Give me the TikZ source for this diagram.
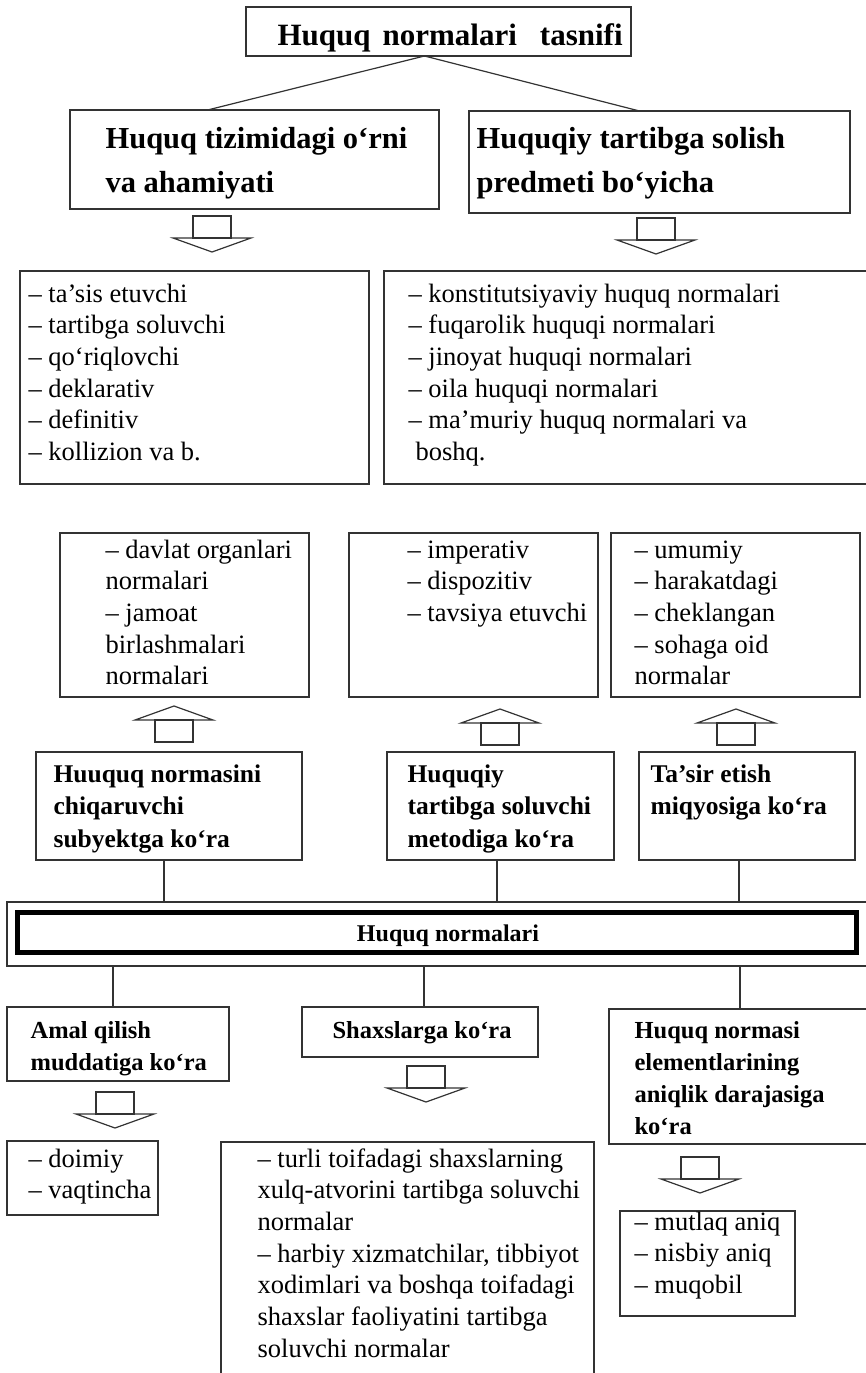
\documentclass[tikz,border=0pt]{standalone}
\usepackage{fontspec}
\setmainfont{Liberation Serif}
\begin{document}
\begin{tikzpicture}[x=1pt,y=-1pt,line width=1.2pt]
\tikzset{box/.style={draw=black!80,anchor=north west,inner sep=0pt,outer sep=0pt}}
% text nodes sit on the baseline of their last line
\tikzset{txt/.style={anchor=base west,align=left,inner sep=0pt,font=\fontsize{26.5}{31.7}\selectfont}}
\tikzset{headtxt/.style={txt,font=\fontsize{30.5}{44}\selectfont\bfseries}}
\tikzset{subtxt/.style={txt,font=\fontsize{25.5}{32.5}\selectfont\bfseries}}
\tikzset{smalltxt/.style={txt,font=\fontsize{24.5}{32}\selectfont\bfseries}}
\tikzset{link/.style={draw=black!80}}
\tikzset{blockdown/.pic={
  \draw[black!80] (-19,0) rectangle (19,22);
  \draw[black!80] (-39,22) -- (39,22) -- (0,36) -- cycle;}}

\useasboundingbox (0,0) rectangle (865,1373);

% top
\node[box,minimum width=385,minimum height=49] (title) at (246,7) {};
\node[headtxt,font=\fontsize{31}{40}\selectfont\bfseries] (titletxt) at (277,45) {Huquq\hspace{12pt}normalari\hspace{23pt}tasnifi};
\node[box,minimum width=369,minimum height=99] (sys) at (70,110) {};
\node[headtxt] (systxt) at (105,192) {Huquq tizimidagi o‘rni\\va ahamiyati};
\node[box,minimum width=381,minimum height=102] (subj) at (469,111) {};
\node[headtxt] (subjtxt) at (476,192) {Huquqiy tartibga solish\\predmeti bo‘yicha};
\draw[link] ([xshift=-14pt]title.south) -- ([xshift=-47pt]sys.north);
\draw[link] ([xshift=-14pt]title.south) -- ([xshift=-20pt]subj.north);

\pic at (212,216) {blockdown};
\pic at (656,218) {blockdown};

\node[box,minimum width=349,minimum height=213] (sysl) at (20,271) {};
\node[txt] (sysltxt) at (28,460.5) {– ta’sis etuvchi\\– tartibga soluvchi\\– qo‘riqlovchi\\– deklarativ\\– definitiv\\– kollizion va b.};
\node[box,minimum width=520,minimum height=213] (subjl) at (384,271) {};
\node[txt] (subjltxt) at (408,460.5) {– konstitutsiyaviy huquq normalari\\– fuqarolik huquqi normalari\\– jinoyat huquqi normalari\\– oila huquqi normalari\\– ma’muriy huquq normalari va\\\hspace*{7pt}boshq.};

% middle
\node[box,minimum width=249,minimum height=164] (publ) at (60,533) {};
\node[txt] (publtxt) at (105,684.8) {– davlat organlari\\normalari\\– jamoat\\birlashmalari\\normalari};
\node[box,minimum width=249,minimum height=164] (metl) at (349,533) {};
\node[txt] (metltxt) at (407,621.4) {– imperativ\\– dispozitiv\\– tavsiya etuvchi};
\node[box,minimum width=249,minimum height=164] (effl) at (611,533) {};
\node[txt] (effltxt) at (634,684.8) {– umumiy\\– harakatdagi\\– cheklangan\\– sohaga oid\\normalar};

\pic[yscale=-1] at (174,742) {blockdown};
\pic[yscale=-1] at (500,745) {blockdown};
\pic[yscale=-1] at (736,745) {blockdown};

\node[box,minimum width=266,minimum height=108] (pubh) at (36,752) {};
\node[subtxt] (pubhtxt) at (53,847) {Huuquq normasini\\chiqaruvchi\\subyektga ko‘ra};
\node[box,minimum width=227,minimum height=108] (meth) at (387,752) {};
\node[subtxt] (methtxt) at (407,847) {Huquqiy\\tartibga soluvchi\\metodiga ko‘ra};
\node[box,minimum width=216,minimum height=108] (effh) at (639,752) {};
\node[subtxt] (effhtxt) at (650,814.5) {Ta’sir etish\\miqyosiga ko‘ra};

\node[box,minimum width=878,minimum height=64] (outer) at (7,902) {};
\node[box,draw=black,line width=5pt,minimum width=839,minimum height=40] (main) at (17,912) {};
\node[anchor=base,inner sep=0pt,font=\fontsize{24}{28}\selectfont\bfseries] (maintxt) at (448,941) {Huquq normalari};

\draw[link] ([xshift=-5pt]pubh.south) -- ([xshift=-5pt]pubh.south |- outer.north);
\draw[link] ([xshift=-3.5pt]meth.south) -- ([xshift=-3.5pt]meth.south |- outer.north);
\draw[link] ([xshift=-8pt]effh.south) -- ([xshift=-8pt]effh.south |- outer.north);

% bottom
\node[box,minimum width=222,minimum height=74] (dur) at (7,1007) {};
\node[smalltxt] (durtxt) at (30,1070) {Amal qilish\\muddatiga ko‘ra};
\node[box,minimum width=236,minimum height=50] (pers) at (302,1007) {};
\node[smalltxt] (perstxt) at (332,1038) {Shaxslarga ko‘ra};
\node[box,minimum width=276,minimum height=135] (prec) at (609,1009) {};
\node[smalltxt] (prectxt) at (634,1134) {Huquq normasi\\elementlarining\\aniqlik darajasiga\\ko‘ra};

\draw[link] ([xshift=-5pt]dur.north) -- ([xshift=-5pt]dur.north |- outer.south);
\draw[link] ([xshift=4pt]pers.north) -- ([xshift=4pt]pers.north |- outer.south);
\draw[link] ([xshift=-7pt]prec.north) -- ([xshift=-7pt]prec.north |- outer.south);

\pic at (115,1092) {blockdown};
\pic at (426,1066) {blockdown};
\pic at (700,1157) {blockdown};

\node[box,minimum width=151,minimum height=74] (durl) at (7,1141) {};
\node[txt] (durltxt) at (28,1198.7) {– doimiy\\– vaqtincha};
\node[box,minimum width=373,minimum height=300] (persl) at (221,1142) {};
\node[txt] (persltxt) at (257,1357.2) {– turli toifadagi shaxslarning\\xulq-atvorini tartibga soluvchi\\normalar\\– harbiy xizmatchilar, tibbiyot\\xodimlari va boshqa toifadagi\\shaxslar faoliyatini tartibga\\soluvchi normalar};
\node[box,minimum width=175,minimum height=105] (precl) at (620,1211) {};
\node[txt] (precltxt) at (634,1293.4) {– mutlaq aniq\\– nisbiy aniq\\– muqobil};

\end{tikzpicture}
\end{document}
